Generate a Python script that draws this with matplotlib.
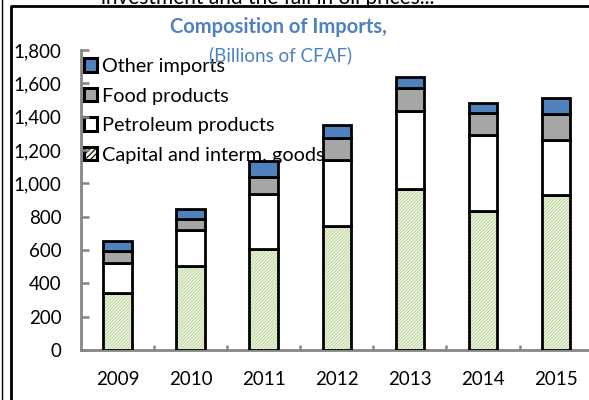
import numpy as np
import matplotlib
matplotlib.use('Agg')
import matplotlib.pyplot as plt
from matplotlib.patches import Patch
from matplotlib.lines import Line2D

plt.rcParams['font.family'] = ['Lato', 'DejaVu Sans']
plt.rcParams['hatch.linewidth'] = 0.8

# data (billions of CFAF)
years = ['2009', '2010', '2011', '2012', '2013', '2014', '2015']
capital = [340, 505, 605, 745, 965, 835, 932]
petroleum = [185, 217, 330, 395, 470, 455, 328]
food = [67, 64, 105, 130, 140, 135, 154]
other = [60, 62, 95, 78, 62, 55, 100]
yticks = [0, 200, 400, 600, 800, 1000, 1200, 1400, 1600, 1800]

blue = '#4f81bd'
grey = '#a6a6a6'
green = '#eef5e4'
hatch_col = '#c2d8a4'
axis_grey = '#868686'

fig = plt.figure(figsize=(5.89, 4.0), dpi=100)
ax = fig.add_axes([0.1375, 0.125, 0.8625, 0.75])

x = np.arange(len(years))
w = 0.39
cap = np.array(capital)
pet = np.array(petroleum)
fd = np.array(food)
oth = np.array(other)

# capital goods: hatched fill then black outline
ax.bar(x, cap, w, color=green, hatch='//////////', edgecolor=hatch_col, linewidth=0, zorder=2)
ax.bar(x, cap, w, fill=False, edgecolor='black', linewidth=2, zorder=3)
ax.bar(x, pet, w, bottom=cap, color='white', edgecolor='black', linewidth=2, zorder=3)
ax.bar(x, fd, w, bottom=cap + pet, color=grey, edgecolor='black', linewidth=2, zorder=3)
ax.bar(x, oth, w, bottom=cap + pet + fd, color=blue, edgecolor='black', linewidth=2, zorder=3)

ax.set_xlim(-0.5, 6.45)
ax.set_ylim(0, 1800)
ax.set_yticks(yticks)
ax.set_yticklabels(['{:,}'.format(v) for v in yticks])
ax.set_xticks(x)
ax.set_xticklabels(years)
ax.set_xticks(np.arange(0.5, 6, 1), minor=True)

for s in ['top', 'right']:
    ax.spines[s].set_visible(False)
for s in ['left', 'bottom']:
    ax.spines[s].set_color(axis_grey)
    ax.spines[s].set_linewidth(2)
    ax.spines[s].set_zorder(1)

ax.tick_params(axis='y', direction='in', length=6, width=1.8, color=axis_grey,
               labelsize=13.5, pad=14)
ax.tick_params(axis='x', which='major', length=0, labelsize=13.5, pad=15)
ax.tick_params(axis='x', which='minor', direction='in', length=3.5, width=1.8, color=axis_grey)

fig.text(0.473, 0.932, 'Composition of Imports,', ha='center', va='center',
         color=blue, fontsize=14.5, fontweight='bold')
fig.text(0.476, 0.862, '(Billions of CFAF)', ha='center', va='center',
         color=blue, fontsize=13.5)

handles = [Patch(facecolor=blue, edgecolor='black', linewidth=2.2),
           Patch(facecolor=grey, edgecolor='black', linewidth=2.2),
           Patch(facecolor='white', edgecolor='black', linewidth=2.2),
           Patch(facecolor=green, edgecolor='black', hatch='//////', linewidth=2.2)]
labels = ['Other imports', 'Food products', 'Petroleum products', 'Capital and interm. goods']
leg = ax.legend(handles, labels, loc='upper left', bbox_to_anchor=(0.142, 0.855),
                bbox_transform=fig.transFigure, frameon=False, fontsize=14.3,
                handlelength=0.68, handleheight=0.68, handletextpad=0.25,
                labelspacing=0.63, borderaxespad=0, borderpad=0)
leg.set_zorder(1)

# cut-off text and frame from the surrounding document
fig.text(0.455, 0.99, 'investment and the fall in oil prices...', ha='center',
         va='baseline', fontsize=15, color='black')
fig.add_artist(Line2D([0.004, 0.004], [0, 1], color='black', lw=1,
                      transform=fig.transFigure))
fig.add_artist(Line2D([0.019, 0.019, 1.0], [0, 0.986, 0.986], color='black', lw=2,
                      transform=fig.transFigure))

fig.savefig('out.png', dpi=100)
